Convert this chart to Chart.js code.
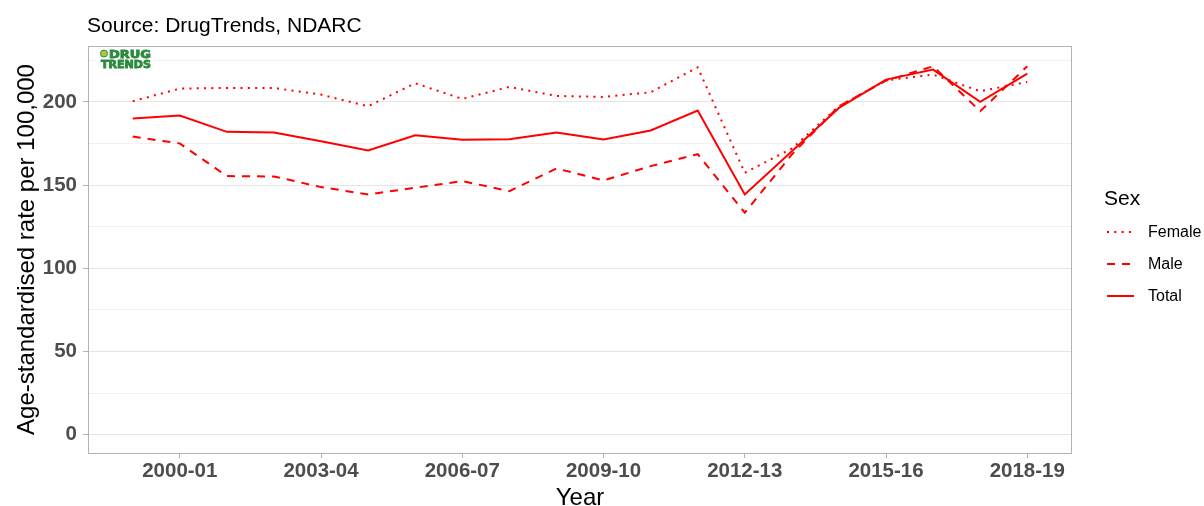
<!DOCTYPE html>
<html>
<head>
<meta charset="utf-8">
<script src="https://cdn.jsdelivr.net/npm/chart.js@4"></script>
<style>
  html, body { margin: 0; padding: 0; background: #fff; }
  #wrap { width: 1204px; height: 506px; }
</style>
</head>
<body>
<div id="wrap"><canvas id="chart" width="1204" height="506"></canvas></div>
<script>
// financial years, 1999-00 .. 2018-19
const years = ['1999-00', '2000-01', '2001-02', '2002-03', '2003-04', '2004-05', '2005-06',
    '2006-07', '2007-08', '2008-09', '2009-10', '2010-11', '2011-12', '2012-13',
    '2013-14', '2014-15', '2015-16', '2016-17', '2017-18', '2018-19'];

// age-standardised rate per 100,000
const female = [200.4, 208, 208.4, 208.4, 204.4, 197.4, 211.2, 201.8, 209, 203.6,
    203, 205.8, 220.8, 157.4, 172, 197.4, 213, 216.4, 206.4, 212];
const male = [179.2, 175, 155.4, 155.2, 148.8, 144.4, 148.4, 152.4, 146.4, 160,
    152.8, 161.4, 168.6, 133.4, 168.4, 197.4, 212.8, 221.4, 194.4, 221.4];
const total = [190, 191.8, 182, 181.6, 176.4, 170.8, 180, 177.2, 177.6, 181.6,
    177.4, 182.8, 194.8, 144.4, 170.4, 196.4, 213.4, 219.4, 200, 217];

const xTickLabels = ['2000-01', '2003-04', '2006-07', '2009-10', '2012-13', '2015-16', '2018-19'];
const yMajorTicks = [0, 50, 100, 150, 200];
const yMinorTicks = [25, 75, 125, 175, 225];

const FONT = '"Liberation Sans", Arial, sans-serif';
const RED = '#ff0000';

const seriesStyles = {
    Female: [2, 5.3],
    Male: [8, 7],
    Total: []
};

function toPoints(values) {
    return values.map((v, i) => ({ x: i, y: v }));
}

// squeeze/stretch a word to a given width (logo lettering)
function fitText(ctx, text, x, y, width) {
    const w = ctx.measureText(text).width;
    ctx.save();
    ctx.translate(x, y);
    ctx.scale(width / w, 1);
    ctx.fillText(text, 0, 0);
    ctx.strokeText(text, 0, 0);
    ctx.restore();
}

// Titles, logo, legend and panel border
const decorations = {
    id: 'decorations',
    afterDraw(chart) {
        const ctx = chart.ctx;
        const area = chart.chartArea;
        ctx.save();

        // panel border
        ctx.strokeStyle = '#b3b3b3';
        ctx.lineWidth = 1;
        ctx.strokeRect(area.left + 0.5, area.top + 0.5, area.right - area.left - 1, area.bottom - area.top);

        // caption
        ctx.fillStyle = '#000';
        ctx.textAlign = 'left';
        ctx.textBaseline = 'alphabetic';
        ctx.font = '21px ' + FONT;
        ctx.fillText('Source: DrugTrends, NDARC', 87, 32);

        // logo
        ctx.fillStyle = '#fff';
        ctx.fillRect(97, 48, 58, 22);
        ctx.fillStyle = '#b8c43a';
        ctx.beginPath();
        ctx.arc(104, 53.5, 3.5, 0, Math.PI * 2);
        ctx.fill();
        ctx.strokeStyle = '#2b8a3e';
        ctx.lineWidth = 1;
        ctx.stroke();
        ctx.fillStyle = '#2b8a3e';
        ctx.lineWidth = 0.8;
        ctx.font = 'bold 10px "DejaVu Sans", ' + FONT;
        fitText(ctx, 'DRUG', 109, 57.5, 42);
        fitText(ctx, 'TRENDS', 101, 67.5, 50);

        // axis titles
        ctx.fillStyle = '#000';
        ctx.font = '24px ' + FONT;
        ctx.textAlign = 'center';
        ctx.fillText('Year', (area.left + area.right) / 2, 505);
        ctx.save();
        ctx.translate(33.5, (area.top + area.bottom) / 2);
        ctx.rotate(-Math.PI / 2);
        ctx.fillText('Age-standardised rate per 100,000', 0, 0);
        ctx.restore();

        // legend
        ctx.textAlign = 'left';
        ctx.font = '21px ' + FONT;
        ctx.fillText('Sex', 1104, 205);
        ctx.font = '16px ' + FONT;
        ctx.textBaseline = 'middle';
        const rows = [['Female', 232], ['Male', 264], ['Total', 296]];
        rows.forEach(([name, y]) => {
            ctx.strokeStyle = RED;
            ctx.lineWidth = 2;
            ctx.setLineDash(seriesStyles[name]);
            ctx.beginPath();
            ctx.moveTo(1107, y);
            ctx.lineTo(1134, y);
            ctx.stroke();
            ctx.setLineDash([]);
            ctx.fillStyle = '#000';
            ctx.fillText(name, 1148, y + 1);
        });

        ctx.restore();
    }
};

const datasets = [
    { label: 'Female', data: toPoints(female) },
    { label: 'Male', data: toPoints(male) },
    { label: 'Total', data: toPoints(total) }
].map(ds => Object.assign(ds, {
    borderColor: RED,
    backgroundColor: RED,
    borderWidth: 2,
    borderDash: seriesStyles[ds.label],
    borderCapStyle: 'butt',
    pointRadius: 0,
    tension: 0,
    fill: false
}));

const tickFont = { family: FONT, size: 20.5, weight: 'bold' };

new Chart(document.getElementById('chart'), {
    type: 'line',
    data: { datasets: datasets },
    options: {
        responsive: false,
        animation: false,
        layout: { padding: { left: 0, top: 46, right: 132, bottom: 0 } },
        plugins: {
            legend: { display: false },
            title: { display: false },
            tooltip: { enabled: false }
        },
        scales: {
            x: {
                type: 'linear',
                min: -0.95,
                max: years.length - 1 + 0.95,
                bounds: 'data',
                afterBuildTicks: s => {
                    s.ticks = xTickLabels.map(l => ({ value: years.indexOf(l) }));
                },
                ticks: {
                    autoSkip: false,
                    maxRotation: 0,
                    padding: 1,
                    color: '#4d4d4d',
                    font: tickFont,
                    callback: v => years[v]
                },
                grid: {
                    drawOnChartArea: false,
                    drawTicks: true,
                    tickLength: 5,
                    tickColor: '#b3b3b3'
                },
                border: { display: false },
                afterFit: s => { s.height = 53; }
            },
            y: {
                type: 'linear',
                min: -11,
                max: 233.6,
                bounds: 'data',
                afterBuildTicks: s => {
                    s.ticks = yMajorTicks.concat(yMinorTicks).sort((a, b) => a - b).map(v => ({ value: v }));
                },
                ticks: {
                    padding: 6,
                    color: '#4d4d4d',
                    font: tickFont,
                    callback: v => yMajorTicks.includes(v) ? String(v) : ''
                },
                grid: {
                    color: c => yMajorTicks.includes(c.tick.value) ? '#e5e5e5' : '#f0f0f0',
                    lineWidth: 1,
                    tickLength: 5,
                    tickColor: c => yMajorTicks.includes(c.tick.value) ? '#b3b3b3' : 'rgba(0,0,0,0)'
                },
                border: { display: false },
                afterFit: s => { s.height; s.width = 88; }
            }
        }
    },
    plugins: [decorations]
});
</script>
</body>
</html>
